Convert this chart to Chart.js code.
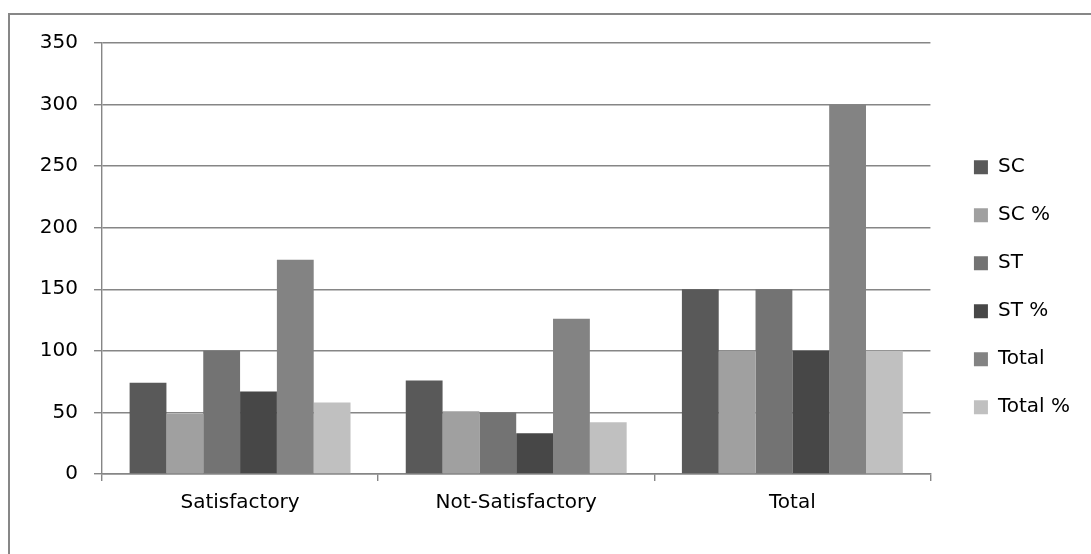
<!DOCTYPE html>
<html>
<head>
<meta charset="utf-8">
<script src="https://cdn.jsdelivr.net/npm/chart.js@4/dist/chart.umd.min.js"></script>
<style>
  html, body { margin: 0; padding: 0; background: #fff; }
  #wrap { width: 1091px; height: 554px; }
</style>
</head>
<body>
<div id="wrap"><canvas id="c" width="1091" height="554"></canvas></div>
<script>
// Categories and series
const categories = ['Satisfactory', 'Not-Satisfactory', 'Total'];
const seriesNames = ['SC', 'SC %', 'ST', 'ST %', 'Total', 'Total %'];
const scValues      = [74, 76, 150];
const scPctValues   = [49, 51, 100];
const stValues      = [100, 50, 150];
const stPctValues   = [67, 33, 100];
const totalValues   = [174, 126, 300];
const totalPctValues = [58, 42, 100];
const yTicks = [0, 50, 100, 150, 200, 250, 300, 350];

const seriesColors = ['#595959', '#a0a0a0', '#737373', '#474747', '#838383', '#c0c0c0'];
const seriesValues = [scValues, scPctValues, stValues, stPctValues, totalValues, totalPctValues];

const FONT = { family: '"DejaVu Sans", sans-serif', size: 20 };
const AXIS_GREY = '#868686';

// Frame around the whole chart
const framePlugin = {
  id: 'frame',
  beforeDraw(chart) {
    const ctx = chart.ctx;
    ctx.save();
    ctx.fillStyle = '#ffffff';
    ctx.fillRect(0, 0, chart.width, chart.height);
    ctx.strokeStyle = '#878787';
    ctx.lineWidth = 2;
    ctx.strokeRect(9, 14, chart.width + 50, chart.height + 50);
    ctx.restore();
  }
};

const datasets = seriesNames.map((name, i) => ({
  label: name,
  data: seriesValues[i],
  backgroundColor: seriesColors[i],
  borderWidth: 0,
  categoryPercentage: 0.8,
  barPercentage: 1.0,
  yAxisID: 'y',
  xAxisID: 'x'
}));

new Chart(document.getElementById('c'), {
  type: 'bar',
  data: { labels: categories, datasets },
  plugins: [framePlugin],
  options: {
    responsive: false,
    animation: false,
    devicePixelRatio: 1,
    layout: { padding: { top: 43, bottom: 22.6, left: 0, right: 11 } },
    plugins: {
      tooltip: { enabled: false },
      legend: {
        position: 'right',
        align: 'center',
        labels: {
          font: FONT,
          color: '#000',
          boxWidth: 14,
          boxHeight: 14,
          padding: 28
        }
      }
    },
    scales: {
      y: {
        type: 'linear',
        position: 'left',
        min: 0,
        max: 350,
        afterBuildTicks(scale) { scale.ticks = yTicks.map(v => ({ value: v })); },
        afterFit(scale) { scale.width = 102; },
        ticks: { font: FONT, color: '#000', padding: 16 },
        grid: { color: AXIS_GREY, lineWidth: 1.4, tickLength: 8, drawTicks: true },
        border: { color: AXIS_GREY, width: 1.4 }
      },
      gap: {
        type: 'linear',
        position: 'right',
        display: true,
        afterFit(scale) { scale.width = 15.5; },
        ticks: { display: false },
        grid: { display: false },
        border: { display: false }
      },
      x: {
        type: 'category',
        afterFit(scale) { scale.height = 57.4; },
        ticks: { font: FONT, color: '#000', padding: 10 },
        grid: { offset: true, drawOnChartArea: false, drawTicks: true, tickLength: 7, color: AXIS_GREY, lineWidth: 1.4 },
        border: { color: AXIS_GREY, width: 1.4 }
      }
    }
  }
});
</script>
</body>
</html>
